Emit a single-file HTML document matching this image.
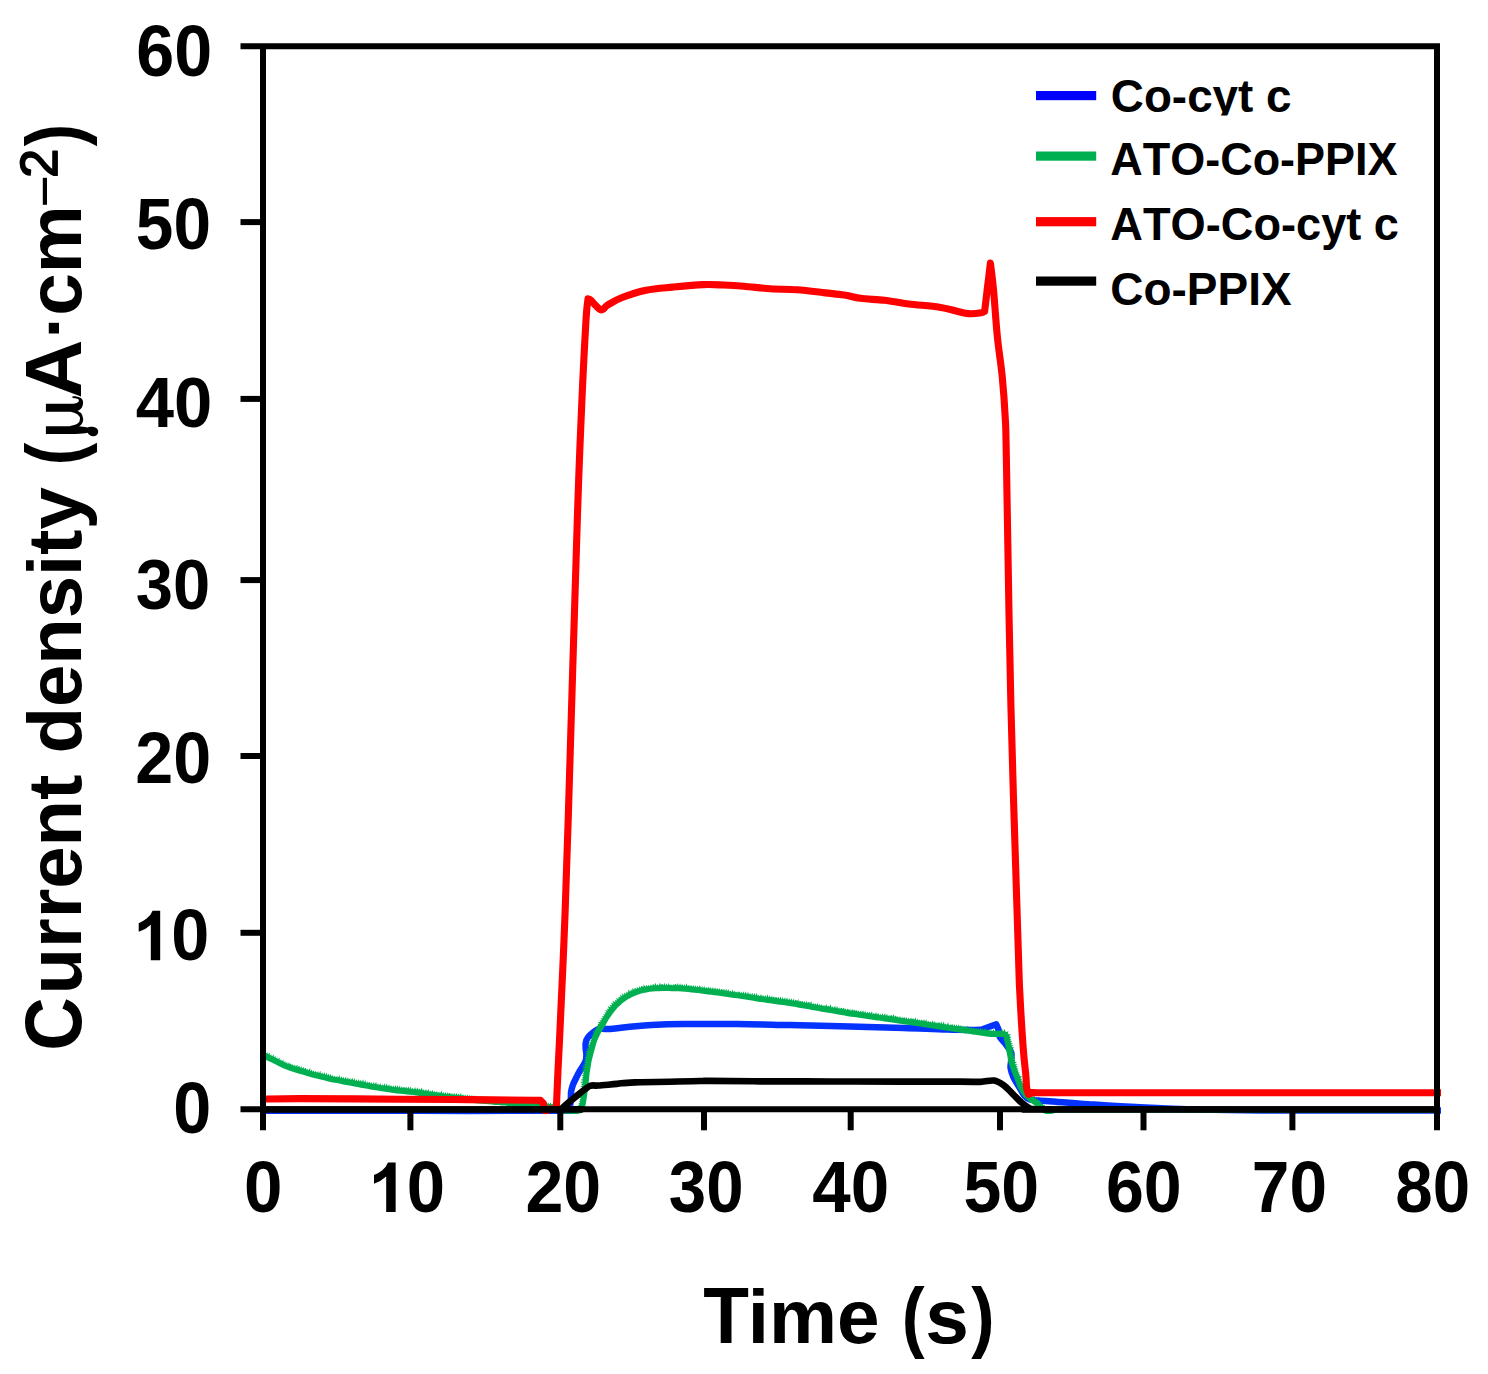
<!DOCTYPE html>
<html><head><meta charset="utf-8"><title>chart</title>
<style>html,body{margin:0;padding:0;background:#fff}body{width:1488px;height:1374px;overflow:hidden;font-family:"Liberation Sans",sans-serif}svg{display:block}</style>
</head><body>
<svg width="1488" height="1374" viewBox="0 0 1488 1374">
<defs><clipPath id="c1"><rect x="1100" y="60" width="300" height="55.6"/></clipPath></defs>
<rect width="1488" height="1374" fill="#fff"/>
<g fill="none" stroke-linejoin="round" stroke-linecap="butt">
<path d="M263.0,1110.8 C289.2,1110.8 369.7,1110.8 420.0,1110.8 C470.3,1110.8 540.2,1111.2 565.0,1110.8 C589.8,1110.4 567.6,1109.6 568.5,1108.5 C569.4,1107.4 569.9,1105.8 570.3,1104.0 C570.7,1102.2 570.8,1100.0 570.9,1098.0 C571.0,1096.0 570.8,1094.0 571.1,1091.9 C571.4,1089.9 571.9,1087.8 572.6,1085.7 C573.3,1083.6 574.4,1081.6 575.4,1079.5 C576.4,1077.4 577.4,1075.4 578.5,1073.3 C579.6,1071.2 581.0,1069.1 582.2,1067.1 C583.4,1065.0 584.9,1063.1 585.6,1061.0 C586.3,1058.9 586.4,1056.8 586.4,1054.8 C586.4,1052.7 585.8,1050.7 585.7,1048.6 C585.6,1046.5 585.4,1044.2 585.8,1042.4 C586.1,1040.6 586.5,1039.3 587.8,1037.6 C589.1,1035.9 591.6,1033.8 593.4,1032.3 C595.2,1030.8 596.8,1029.5 598.7,1028.9 C600.6,1028.3 602.7,1028.9 605.0,1028.9 C607.3,1028.9 608.4,1029.1 612.6,1028.7 C616.8,1028.3 623.5,1027.4 630.0,1026.8 C636.5,1026.2 642.5,1025.4 651.5,1024.9 C660.5,1024.5 669.5,1024.2 683.8,1024.1 C698.1,1023.9 719.8,1023.8 737.5,1024.0 C755.2,1024.2 771.2,1024.7 790.0,1025.1 C808.8,1025.5 831.0,1026.0 850.0,1026.5 C869.0,1027.0 887.7,1027.5 903.8,1028.0 C919.9,1028.5 934.9,1029.3 946.8,1029.6 C958.7,1029.9 969.3,1029.9 975.0,1029.9 C980.7,1029.9 980.2,1029.7 981.2,1029.7 L981.2,1029.7 L996.2,1024.3 L996.2,1024.3 C996.6,1025.2 998.0,1028.0 998.6,1030.0 C999.2,1032.0 998.5,1034.2 999.6,1036.5 C1000.7,1038.8 1003.5,1041.0 1005.4,1043.7 C1007.3,1046.4 1010.1,1049.5 1011.1,1052.4 C1012.1,1055.3 1011.2,1058.5 1011.1,1061.1 C1011.0,1063.7 1010.2,1065.5 1010.6,1068.1 C1011.0,1070.7 1011.8,1073.6 1013.3,1076.8 C1014.8,1080.0 1017.5,1084.1 1019.4,1087.3 C1021.3,1090.5 1022.9,1094.0 1024.6,1096.0 C1026.3,1098.0 1027.5,1098.8 1029.8,1099.5 C1032.1,1100.2 1034.2,1100.0 1038.6,1100.4 C1043.0,1100.8 1047.8,1101.1 1056.0,1101.7 C1064.2,1102.3 1074.0,1103.3 1088.0,1104.2 C1102.0,1105.1 1121.3,1106.4 1140.0,1107.3 C1158.7,1108.2 1180.0,1109.1 1200.0,1109.6 C1220.0,1110.1 1235.0,1110.3 1260.0,1110.5 C1285.0,1110.7 1319.8,1110.6 1350.0,1110.6 C1380.2,1110.6 1425.8,1110.6 1441.0,1110.6" stroke="#0433ff" stroke-width="6.5"/>
<path d="M263.7,1055.2 L266.6,1056.8 L269.6,1058.3 L272.5,1059.7 L275.5,1061.2 L278.5,1062.6 L281.4,1064.1 L284.4,1065.5 L287.5,1066.8 L290.6,1067.9 L293.8,1068.9 L296.9,1069.9 L300.1,1070.9 L303.2,1071.8 L306.4,1072.8 L309.6,1073.7 L312.8,1074.6 L316.0,1075.4 L319.2,1076.2 L322.4,1077.0 L325.6,1077.8 L328.8,1078.6 L332.0,1079.3 L335.3,1079.9 L338.5,1080.5 L341.8,1081.1 L345.0,1081.8 L348.2,1082.4 L351.5,1083.0 L354.7,1083.6 L358.0,1084.2 L361.2,1084.8 L364.5,1085.4 L367.7,1086.0 L370.9,1086.6 L374.2,1087.2 L377.5,1087.7 L380.7,1088.2 L384.0,1088.6 L387.3,1089.1 L390.5,1089.6 L393.8,1090.1 L397.1,1090.5 L400.4,1090.8 L403.7,1091.2 L406.9,1091.5 L410.2,1091.9 L413.5,1092.2 L416.8,1092.6 L420.0,1093.1 L423.3,1093.5 L426.6,1094.0 L429.8,1094.5 L433.1,1094.9 L436.4,1095.4 L439.6,1095.9 L442.9,1096.3 L446.2,1096.8 L449.5,1097.2 L452.7,1097.6 L456.0,1098.0 L459.3,1098.4 L462.6,1098.7 L465.8,1099.1 L469.1,1099.5 L472.4,1099.9 L475.7,1100.3 L479.0,1100.6 L482.3,1100.9 L485.6,1101.2 L488.8,1101.4 L492.1,1101.7 L495.4,1102.0 L498.7,1102.2 L502.0,1102.5 L505.3,1102.7 L508.6,1103.0 L511.9,1103.2 L515.2,1103.5 L518.5,1103.7 L521.7,1104.0 L525.0,1104.2 L528.3,1104.5 L531.6,1104.7 L534.9,1105.0 L538.2,1105.2 L541.4,1105.6 L544.7,1106.1 L547.9,1106.7 L551.2,1107.2 L554.4,1107.8 L557.5,1108.7 L560.6,1109.9 L563.8,1110.7 L567.2,1110.9 L570.5,1110.9 L573.8,1111.0 L577.1,1111.0 L580.2,1110.3 L581.9,1107.6 L582.7,1104.4 L583.3,1101.1 L583.8,1097.8 L584.3,1094.6 L584.7,1091.3 L585.2,1088.0 L585.6,1084.7 L585.9,1081.4 L586.2,1078.2 L586.5,1074.9 L586.9,1071.6 L587.5,1068.4 L588.0,1065.1 L588.5,1061.9 L589.2,1058.7 L590.0,1055.5 L590.8,1052.3 L591.7,1049.1 L592.6,1046.0 L593.5,1042.8 L594.5,1039.7 L595.8,1036.7 L597.2,1033.7 L598.7,1030.9 L600.5,1028.2 L602.2,1025.3 L603.7,1022.4 L605.3,1019.5 L607.0,1016.7 L608.9,1014.1 L610.8,1011.4 L612.8,1008.8 L614.9,1006.3 L617.2,1004.0 L619.6,1001.8 L622.1,999.8 L624.8,997.9 L627.6,996.1 L630.4,994.6 L633.4,993.3 L636.5,992.1 L639.5,991.0 L642.7,990.2 L645.9,989.6 L649.1,988.9 L652.3,988.6 L655.6,988.4 L658.9,988.3 L662.2,988.2 L665.5,988.2 L668.8,988.2 L672.1,988.3 L675.4,988.3 L678.6,988.4 L681.9,988.7 L685.2,988.9 L688.5,989.2 L691.8,989.5 L695.0,989.8 L698.3,990.2 L701.6,990.6 L704.9,991.1 L708.1,991.5 L711.4,991.9 L714.7,992.3 L717.9,992.7 L721.2,993.2 L724.5,993.6 L727.8,994.1 L731.0,994.6 L734.3,995.0 L737.6,995.5 L740.8,996.0 L744.1,996.5 L747.3,997.0 L750.6,997.5 L753.8,998.0 L757.1,998.6 L760.4,999.0 L763.6,999.5 L766.9,1000.0 L770.2,1000.4 L773.5,1000.9 L776.7,1001.3 L780.0,1001.8 L783.3,1002.2 L786.5,1002.7 L789.8,1003.1 L793.0,1003.7 L796.3,1004.2 L799.5,1004.8 L802.8,1005.4 L806.0,1005.9 L809.3,1006.5 L812.5,1007.1 L815.8,1007.6 L819.0,1008.2 L822.3,1008.8 L825.5,1009.3 L828.8,1009.9 L832.0,1010.4 L835.3,1011.0 L838.6,1011.6 L841.8,1012.1 L845.1,1012.7 L848.3,1013.3 L851.6,1013.8 L854.8,1014.2 L858.1,1014.7 L861.4,1015.2 L864.6,1015.7 L867.9,1016.1 L871.2,1016.6 L874.4,1017.1 L877.7,1017.5 L881.0,1018.0 L884.2,1018.5 L887.5,1018.9 L890.8,1019.4 L894.0,1019.9 L897.3,1020.3 L900.6,1020.8 L903.8,1021.3 L907.1,1021.8 L910.4,1022.2 L913.6,1022.7 L916.9,1023.2 L920.2,1023.7 L923.4,1024.2 L926.7,1024.7 L929.9,1025.2 L933.2,1025.7 L936.5,1026.2 L939.7,1026.7 L943.0,1027.2 L946.3,1027.7 L949.5,1028.2 L952.8,1028.6 L956.1,1029.1 L959.3,1029.6 L962.6,1030.1 L965.9,1030.5 L969.1,1031.0 L972.4,1031.5 L975.7,1031.9 L978.9,1032.4 L982.2,1032.9 L985.5,1033.3 L988.8,1033.8 L992.1,1034.0 L995.4,1034.0 L998.7,1034.1 L1002.0,1034.1 L1004.8,1034.3 L1006.2,1035.9 L1006.9,1039.0 L1007.6,1042.2 L1008.3,1045.4 L1008.9,1048.7 L1009.5,1051.9 L1010.1,1055.1 L1010.6,1058.4 L1011.2,1061.7 L1012.3,1064.9 L1013.4,1068.0 L1014.5,1071.1 L1015.7,1074.1 L1016.9,1077.2 L1018.1,1080.3 L1019.2,1083.4 L1020.3,1086.5 L1021.9,1089.5 L1023.7,1092.3 L1025.7,1095.0 L1028.2,1097.2 L1030.8,1099.2 L1033.5,1101.1 L1036.2,1103.0 L1038.5,1105.2 L1040.9,1107.6 L1043.4,1109.8 L1046.4,1111.1 L1049.8,1111.2 L1052.9,1110.6 L1056,1109.8 L1438,1109.8" stroke="#00b050" stroke-width="5.8"/>
<path d="M265.3,1052.4 L265.0,1055.1 L267.1,1053.6 L267.0,1056.1 L269.2,1054.0 L268.9,1057.1 L270.9,1055.6 L270.9,1058.1 L273.1,1056.1 L272.9,1059.0 L275.0,1057.2 L274.8,1060.0 L276.8,1058.5 L276.8,1061.0 L279.0,1059.0 L278.8,1061.9 L280.7,1060.5 L280.8,1062.9 L282.9,1061.0 L282.8,1063.9 L284.7,1062.4 L284.7,1064.8 L286.6,1063.3 L286.7,1065.7 L288.7,1063.7 L288.8,1066.5 L290.8,1063.9 L290.8,1067.2 L292.6,1065.4 L292.9,1067.8 L294.7,1065.9 L295.0,1068.5 L296.9,1066.1 L297.1,1069.2 L299.2,1066.4 L299.2,1069.8 L301.1,1067.5 L301.3,1070.5 L303.2,1068.3 L303.4,1071.1 L305.5,1068.3 L305.5,1071.8 L307.2,1070.0 L307.6,1072.4 L309.6,1069.7 L309.8,1073.0 L311.4,1070.9 L311.9,1073.6 L313.5,1071.6 L314.0,1074.1 L315.6,1072.2 L316.2,1074.6 L317.8,1072.5 L318.3,1075.2 L320.1,1072.5 L320.4,1075.7 L322.1,1073.7 L322.6,1076.2 L324.3,1073.8 L324.7,1076.8 L326.5,1074.3 L326.8,1077.3 L328.5,1075.1 L329.0,1077.8 L330.6,1075.4 L331.1,1078.3 L332.6,1076.4 L333.2,1078.8 L334.7,1076.8 L335.4,1079.2 L336.9,1077.1 L337.6,1079.6 L339.2,1076.9 L339.7,1080.0 L341.3,1077.6 L341.9,1080.4 L343.4,1078.2 L344.1,1080.8 L345.7,1078.3 L346.2,1081.2 L347.8,1078.8 L348.4,1081.6 L349.9,1079.4 L350.5,1082.1 L352.2,1079.3 L352.7,1082.5 L354.3,1079.8 L354.9,1082.9 L356.4,1080.7 L357.0,1083.3 L358.6,1080.7 L359.2,1083.7 L360.8,1081.2 L361.3,1084.1 L363.0,1081.2 L363.5,1084.5 L365.1,1081.8 L365.7,1084.9 L367.2,1082.7 L367.8,1085.3 L369.5,1082.3 L370.0,1085.7 L371.5,1083.7 L372.2,1086.1 L373.7,1083.7 L374.3,1086.4 L375.9,1083.6 L376.5,1086.8 L377.9,1084.7 L378.7,1087.1 L380.2,1084.6 L380.9,1087.4 L382.3,1085.5 L383.0,1087.7 L384.5,1085.0 L385.2,1088.1 L386.7,1085.2 L387.4,1088.4 L388.9,1085.8 L389.6,1088.7 L391.1,1085.8 L391.7,1089.0 L393.2,1086.7 L393.9,1089.3 L395.4,1086.6 L396.1,1089.6 L397.5,1086.9 L398.3,1089.9 L399.7,1087.2 L400.5,1090.1 L401.8,1087.6 L402.6,1090.3 L404.1,1087.3 L404.8,1090.5 L406.3,1087.4 L407.0,1090.8 L408.4,1088.2 L409.2,1091.0 L410.6,1088.2 L411.4,1091.2 L412.7,1089.2 L413.6,1091.5 L415.0,1088.7 L415.8,1091.7 L417.3,1089.0 L418.0,1092.0 L419.5,1088.9 L420.1,1092.3 L421.7,1089.4 L422.3,1092.6 L423.7,1090.4 L424.5,1092.9 L425.9,1090.6 L426.7,1093.3 L428.2,1090.5 L428.8,1093.6 L430.2,1091.6 L431.0,1093.9 L432.5,1091.4 L433.2,1094.2 L434.6,1092.1 L435.4,1094.5 L436.8,1092.4 L437.6,1094.8 L439.0,1092.8 L439.7,1095.1 L441.3,1092.3 L441.9,1095.4 L443.3,1093.4 L444.1,1095.7 L445.5,1093.5 L446.3,1096.0 L447.7,1093.6 L448.5,1096.3 L449.9,1093.3 L450.6,1096.6 L452.0,1094.5 L452.8,1096.9 L454.2,1094.4 L455.0,1097.1 L456.4,1094.5 L457.2,1097.4 L458.6,1094.3 L459.4,1097.6 L460.8,1094.7 L461.6,1097.9 L463.0,1094.9 L463.7,1098.1 L465.1,1095.8 L465.9,1098.4 L467.3,1095.9 L468.1,1098.6 L469.5,1096.2 L470.3,1098.9 L471.8,1095.9 L472.5,1099.1 L474.0,1096.0 L474.7,1099.4 L476.0,1097.2 L476.9,1099.6 L478.2,1097.5 L479.0,1099.9 L480.4,1097.6 L481.2,1100.1 L482.5,1097.8 L483.4,1100.3 L484.7,1097.7 L485.6,1100.4 L486.9,1097.7 L487.8,1100.6 L489.1,1098.3 L490.0,1100.8 L491.3,1098.8 L492.2,1101.0 L493.5,1098.4 L494.4,1101.1 L495.7,1098.7 L496.6,1101.3 L497.9,1098.6 L498.8,1101.5 L500.1,1098.3 L501.0,1101.6 L502.3,1098.8 L503.2,1101.8 L504.5,1099.2 L505.4,1102.0 L506.7,1099.2 L507.5,1102.2 L508.9,1099.3 L509.7,1102.3 L511.0,1100.2 L511.9,1102.5 L513.3,1099.4 L514.1,1102.7 L515.4,1099.7 L516.3,1102.8 L517.7,1099.8 L518.5,1103.0 L519.8,1100.0 L520.7,1103.2 L522.0,1100.7 L522.9,1103.3 L524.2,1100.8 L525.1,1103.5 L526.4,1101.3 L527.3,1103.6 L528.6,1100.9 L529.5,1103.8 L530.7,1101.7 L531.7,1104.0 L532.9,1101.9 L533.9,1104.1 L535.1,1101.9 L536.1,1104.3 L537.3,1102.1 L538.3,1104.5 L539.6,1102.1 L540.5,1104.7 L541.9,1102.7 L542.6,1105.0 L544.1,1103.2 L544.8,1105.4 L546.3,1103.3 L547.0,1105.8 L548.4,1103.8 L549.1,1106.1 L550.6,1103.8 L551.3,1106.5 L552.8,1104.6 L553.5,1106.9 L555.2,1104.0 L555.6,1107.4 L557.5,1105.0 L557.7,1108.0 L559.6,1106.3 L559.8,1108.8 L561.6,1106.9 L561.8,1109.5 L563.4,1107.3 L563.9,1110.0 L565.2,1107.5 L566.1,1110.1 L567.2,1107.9 L568.3,1110.2 L569.4,1107.1 L570.5,1110.2 L571.6,1106.9 L572.7,1110.2 L573.8,1107.6 L574.9,1110.2 L576.0,1107.6 L577.0,1110.2 L577.8,1108.0 L579.0,1110.0 L578.5,1107.8 L580.3,1109.1 L578.5,1107.2 L581.2,1107.4 L579.2,1105.7 L581.8,1105.3 L579.0,1103.6 L582.2,1103.2 L580.1,1101.7 L582.6,1101.0 L580.6,1099.6 L582.9,1098.8 L579.8,1097.3 L583.2,1096.6 L580.7,1095.2 L583.5,1094.5 L581.4,1093.0 L583.8,1092.3 L581.3,1090.8 L584.2,1090.1 L582.2,1088.7 L584.5,1087.9 L581.9,1086.5 L584.8,1085.8 L581.6,1084.3 L585.0,1083.6 L582.0,1082.2 L585.2,1081.4 L582.4,1080.0 L585.4,1079.2 L583.1,1077.9 L585.6,1077.0 L583.1,1075.7 L585.8,1074.8 L583.6,1073.4 L586.0,1072.6 L583.2,1071.1 L586.4,1070.4 L583.8,1068.9 L586.7,1068.3 L583.9,1066.7 L587.1,1066.1 L584.8,1064.6 L587.4,1063.9 L585.3,1062.4 L587.8,1061.7 L585.0,1060.0 L588.2,1059.6 L585.3,1057.7 L588.8,1057.4 L586.0,1055.6 L589.3,1055.3 L586.6,1053.5 L589.8,1053.2 L587.1,1051.4 L590.4,1051.0 L587.8,1049.2 L590.9,1048.9 L589.0,1047.2 L591.5,1046.8 L589.2,1045.0 L592.2,1044.7 L590.1,1042.9 L592.8,1042.6 L591.1,1040.9 L593.5,1040.5 L591.8,1038.7 L594.2,1038.4 L592.4,1036.4 L595.1,1036.4 L593.4,1034.4 L596.0,1034.4 L593.9,1032.1 L597.0,1032.4 L594.7,1029.9 L598.1,1030.5 L596.5,1028.1 L599.3,1028.7 L597.2,1026.0 L600.5,1026.9 L598.1,1024.3 L601.5,1025.0 L599.2,1022.5 L602.6,1023.0 L600.8,1020.9 L603.6,1021.1 L602.0,1019.0 L604.6,1019.1 L603.1,1017.0 L605.7,1017.2 L604.4,1015.0 L607.0,1015.4 L605.7,1013.1 L608.2,1013.6 L606.6,1011.1 L609.5,1011.9 L607.6,1009.1 L610.8,1010.1 L609.0,1007.3 L612.2,1008.3 L610.8,1005.7 L613.6,1006.6 L612.2,1003.8 L615.1,1005.0 L613.7,1002.1 L616.7,1003.5 L615.9,1001.1 L618.2,1001.9 L617.2,999.0 L619.9,1000.5 L618.9,997.3 L621.7,999.2 L620.9,996.0 L623.5,997.9 L622.7,994.8 L625.3,996.7 L624.8,993.8 L627.2,995.5 L627.0,992.9 L629.1,994.4 L628.8,991.2 L631.1,993.5 L631.2,990.7 L633.1,992.6 L633.0,989.4 L635.2,991.8 L635.0,988.4 L637.2,991.0 L637.4,988.2 L639.3,990.3 L639.7,987.5 L641.4,989.7 L641.8,986.3 L643.6,989.3 L644.1,986.1 L645.7,988.8 L646.4,986.3 L647.9,988.4 L648.6,986.0 L650.1,988.0 L651.0,985.7 L652.3,987.8 L653.2,984.6 L654.5,987.7 L655.4,984.6 L656.7,987.6 L657.7,985.3 L658.9,987.5 L659.9,984.4 L661.1,987.5 L662.1,984.2 L663.3,987.4 L664.4,984.5 L665.5,987.4 L666.6,984.9 L667.7,987.5 L668.8,984.7 L669.9,987.5 L671.0,985.3 L672.1,987.5 L673.2,985.4 L674.3,987.5 L675.4,984.3 L676.5,987.6 L677.7,984.7 L678.7,987.7 L680.0,985.0 L680.9,987.8 L682.2,984.7 L683.1,988.0 L684.4,985.5 L685.3,988.2 L686.6,985.2 L687.5,988.4 L688.8,985.4 L689.6,988.6 L691.0,986.3 L691.8,988.8 L693.2,986.5 L694.0,989.0 L695.4,986.7 L696.2,989.2 L697.6,987.0 L698.4,989.5 L699.8,986.8 L700.6,989.8 L702.0,987.5 L702.8,990.0 L704.2,987.6 L705.0,990.3 L706.3,988.2 L707.1,990.6 L708.6,987.6 L709.3,990.9 L710.7,988.5 L711.5,991.1 L712.9,988.6 L713.7,991.4 L715.1,988.8 L715.9,991.7 L717.4,988.7 L718.1,992.0 L719.5,989.6 L720.2,992.3 L721.8,989.3 L722.4,992.6 L723.9,990.1 L724.6,992.9 L726.1,990.3 L726.8,993.2 L728.2,990.7 L728.9,993.5 L730.3,991.6 L731.1,993.8 L732.6,991.4 L733.3,994.1 L734.7,992.0 L735.5,994.4 L736.9,992.5 L737.7,994.7 L739.2,991.9 L739.8,995.1 L741.3,993.0 L742.0,995.4 L743.5,992.9 L744.2,995.8 L745.7,993.0 L746.4,996.1 L747.9,993.5 L748.5,996.4 L750.0,994.2 L750.7,996.8 L752.2,994.3 L752.9,997.1 L754.4,994.6 L755.0,997.5 L756.6,994.6 L757.2,997.8 L758.6,995.8 L759.4,998.1 L760.9,995.6 L761.6,998.5 L763.0,996.2 L763.8,998.8 L765.2,996.5 L765.9,999.1 L767.4,996.2 L768.1,999.4 L769.6,996.8 L770.3,999.7 L771.8,997.1 L772.5,1000.0 L774.0,997.1 L774.6,1000.3 L776.2,997.3 L776.8,1000.6 L778.3,998.1 L779.0,1000.9 L780.5,998.2 L781.2,1001.2 L782.6,998.6 L783.4,1001.5 L784.8,998.9 L785.5,1001.8 L787.0,999.0 L787.7,1002.1 L789.2,999.6 L789.9,1002.4 L791.4,999.9 L792.1,1002.8 L793.6,1000.3 L794.2,1003.1 L795.9,1000.1 L796.4,1003.5 L798.0,1000.8 L798.6,1003.9 L800.2,1001.0 L800.7,1004.3 L802.4,1001.3 L802.9,1004.6 L804.4,1002.4 L805.1,1005.0 L806.6,1002.5 L807.2,1005.4 L808.9,1002.4 L809.4,1005.8 L811.0,1002.9 L811.6,1006.1 L813.1,1004.1 L813.8,1006.5 L815.2,1004.5 L815.9,1006.9 L817.5,1004.5 L818.1,1007.3 L819.5,1005.3 L820.3,1007.6 L821.7,1005.5 L822.4,1008.0 L823.9,1006.0 L824.6,1008.4 L826.2,1005.7 L826.8,1008.8 L828.4,1006.0 L828.9,1009.1 L830.6,1006.2 L831.1,1009.5 L832.6,1007.5 L833.3,1009.9 L834.9,1007.2 L835.4,1010.3 L837.0,1007.6 L837.6,1010.6 L839.1,1008.6 L839.8,1011.0 L841.4,1008.1 L841.9,1011.4 L843.6,1008.4 L844.1,1011.8 L845.6,1009.6 L846.3,1012.1 L847.9,1009.1 L848.4,1012.5 L849.9,1010.2 L850.6,1012.9 L852.1,1010.4 L852.8,1013.2 L854.3,1010.1 L855.0,1013.5 L856.5,1010.6 L857.1,1013.8 L858.5,1011.7 L859.3,1014.1 L860.8,1011.7 L861.5,1014.4 L863.0,1011.9 L863.7,1014.8 L865.1,1012.4 L865.8,1015.1 L867.3,1012.9 L868.0,1015.4 L869.5,1013.1 L870.2,1015.7 L871.7,1012.9 L872.4,1016.0 L873.8,1014.1 L874.6,1016.3 L876.0,1013.7 L876.7,1016.6 L878.2,1014.2 L878.9,1016.9 L880.3,1015.0 L881.1,1017.2 L882.5,1014.9 L883.3,1017.6 L884.8,1014.9 L885.4,1017.9 L886.9,1015.3 L887.6,1018.2 L889.0,1016.2 L889.8,1018.5 L891.4,1015.4 L892.0,1018.8 L893.5,1015.9 L894.2,1019.1 L895.7,1016.0 L896.3,1019.4 L897.7,1017.4 L898.5,1019.7 L899.9,1017.5 L900.7,1020.1 L902.1,1018.1 L902.9,1020.4 L904.4,1017.5 L905.0,1020.7 L906.5,1018.5 L907.2,1021.0 L908.6,1018.9 L909.4,1021.3 L910.9,1018.9 L911.6,1021.7 L913.1,1018.7 L913.7,1022.0 L915.3,1019.1 L915.9,1022.3 L917.4,1020.1 L918.1,1022.7 L919.5,1020.6 L920.3,1023.0 L921.8,1020.0 L922.4,1023.3 L924.0,1020.7 L924.6,1023.6 L926.1,1020.9 L926.8,1024.0 L928.2,1021.9 L929.0,1024.3 L930.4,1022.3 L931.1,1024.6 L932.7,1021.9 L933.3,1025.0 L934.8,1022.5 L935.5,1025.3 L936.9,1023.3 L937.7,1025.6 L939.2,1022.6 L939.9,1025.9 L941.4,1023.3 L942.0,1026.3 L943.6,1023.4 L944.2,1026.6 L945.6,1024.6 L946.4,1026.9 L947.9,1024.0 L948.6,1027.2 L950.0,1025.3 L950.7,1027.6 L952.3,1024.6 L952.9,1027.9 L954.4,1025.5 L955.1,1028.2 L956.5,1025.9 L957.3,1028.6 L958.7,1026.0 L959.4,1028.9 L961.0,1025.8 L961.6,1029.2 L963.0,1026.9 L963.8,1029.5 L965.2,1027.4 L966.0,1029.8 L967.4,1027.3 L968.1,1030.1 L969.6,1027.9 L970.3,1030.4 L971.7,1028.4 L972.5,1030.7 L973.9,1028.6 L974.7,1031.0 L976.1,1029.1 L976.9,1031.4 L978.3,1029.2 L979.0,1031.7 L980.5,1029.4 L981.2,1032.0 L982.6,1029.7 L983.4,1032.3 L984.9,1029.5 L985.6,1032.6 L987.0,1030.3 L987.7,1032.9 L989.1,1030.3 L989.9,1033.1 L991.1,1030.9 L992.1,1033.2 L993.3,1030.7 L994.3,1033.3 L995.4,1031.2 L996.5,1033.3 L997.6,1030.9 L998.7,1033.3 L999.8,1031.2 L1000.9,1033.4 L1002.0,1030.4 L1003.1,1033.4 L1004.5,1030.7 L1005.1,1033.6 L1007.4,1032.3 L1006.5,1034.8 L1009.4,1034.8 L1007.2,1036.7 L1010.6,1037.0 L1007.7,1038.8 L1010.1,1039.4 L1008.1,1041.0 L1011.4,1041.4 L1008.6,1043.1 L1011.4,1043.7 L1009.0,1045.3 L1011.9,1045.8 L1009.4,1047.4 L1012.7,1047.9 L1009.9,1049.6 L1012.6,1050.2 L1010.3,1051.8 L1013.1,1052.4 L1010.6,1053.9 L1013.7,1054.6 L1011.0,1056.1 L1014.4,1056.7 L1011.3,1058.3 L1013.9,1058.9 L1011.7,1060.4 L1015.0,1060.7 L1012.3,1062.5 L1015.4,1062.6 L1013.0,1064.6 L1016.0,1064.7 L1013.7,1066.7 L1016.5,1066.8 L1014.5,1068.7 L1017.2,1068.9 L1015.2,1070.8 L1017.6,1071.0 L1016.0,1072.8 L1018.5,1073.0 L1016.8,1074.9 L1019.3,1075.1 L1017.6,1076.9 L1020.8,1076.9 L1018.4,1079.0 L1021.1,1079.2 L1019.2,1081.1 L1021.7,1081.4 L1019.9,1083.2 L1022.3,1083.4 L1020.6,1085.2 L1023.9,1085.0 L1021.5,1087.2 L1024.7,1086.6 L1022.5,1089.1 L1025.6,1088.4 L1023.7,1090.9 L1026.4,1090.5 L1025.0,1092.8 L1027.5,1092.2 L1026.3,1094.5 L1028.7,1093.5 L1027.8,1096.0 L1030.3,1094.6 L1029.5,1097.3 L1031.7,1096.1 L1031.3,1098.6 L1033.7,1097.1 L1033.0,1099.9 L1035.3,1098.5 L1034.9,1101.1 L1037.7,1099.2 L1036.6,1102.4 L1039.6,1100.7 L1038.3,1103.9 L1041.0,1102.7 L1039.8,1105.5 L1042.3,1104.6 L1041.4,1107.0 L1044.4,1105.4 L1043.0,1108.5 L1045.2,1107.1 L1044.7,1109.7 L1046.4,1107.7 L1046.5,1110.3 L1047.7,1108.3 L1048.6,1110.5 L1049.5,1107.9 L1050.8,1110.3 L1051.3,1107.5 L1052.7,1109.9 L1052.9,1107.1" stroke="#00b050" stroke-width="1.25" stroke-linejoin="miter" stroke-miterlimit="3"/>
<path d="M263.0,1098.8 C269.2,1098.7 277.2,1098.4 300.0,1098.4 C322.8,1098.4 371.7,1098.8 400.0,1099.0 C428.3,1099.2 447.6,1099.2 470.0,1099.4 C492.4,1099.6 523.2,1099.9 534.6,1100.0 C546.0,1100.1 537.4,1100.0 538.5,1100.2 C539.6,1100.4 540.7,1100.7 541.5,1101.2 C542.3,1101.7 542.9,1102.4 543.3,1103.2 C543.7,1104.0 543.8,1104.8 543.9,1106.0 C544.0,1107.2 544.1,1109.4 544.1,1110.1 L544.1,1110.1 C544.3,1110.1 544.9,1110.4 545.5,1110.4 C546.1,1110.4 546.8,1110.2 547.5,1109.9 C548.2,1109.6 549.1,1108.9 550.0,1108.7 C550.9,1108.5 552.0,1108.5 553.0,1108.5 C554.0,1108.5 555.8,1108.5 556.3,1108.5 L556.3,1108.5 C556.3,1107.8 556.2,1110.9 556.5,1104.5 C556.8,1098.1 557.5,1080.8 558.0,1070.0 C558.5,1059.2 558.5,1061.7 559.5,1040.0 C560.5,1018.3 562.5,977.3 564.0,940.0 C565.5,902.7 566.1,886.0 568.3,816.0 C570.5,746.0 575.0,588.8 577.3,520.0 C579.5,451.2 580.4,436.1 581.8,403.0 C583.2,369.9 584.9,338.9 585.9,321.5 C586.9,304.1 587.6,302.4 588.0,298.6 L588.0,298.6 C588.4,298.8 589.2,298.5 590.5,299.6 C591.8,300.8 594.5,304.0 596.0,305.5 C597.5,307.0 598.4,308.1 599.3,308.8 C600.2,309.5 600.6,309.6 601.3,309.6 C602.0,309.6 602.5,309.4 603.6,308.6 C604.7,307.8 605.0,306.5 608.0,304.6 C611.0,302.8 615.2,299.9 621.5,297.5 C627.8,295.1 637.5,291.8 646.0,290.0 C654.5,288.2 663.0,287.8 672.5,286.9 C682.0,286.0 694.5,284.8 703.0,284.4 C711.5,284.0 716.6,284.5 723.4,284.8 C730.2,285.1 736.0,285.4 743.8,286.0 C751.6,286.6 761.5,287.9 770.3,288.5 C779.1,289.1 787.6,288.8 796.8,289.5 C806.0,290.2 817.4,291.7 825.3,292.6 C833.2,293.5 838.4,293.9 844.2,294.8 C850.0,295.7 853.6,297.2 860.3,298.1 C867.0,299.0 876.4,299.1 884.5,300.0 C892.6,300.9 899.6,302.6 908.7,303.7 C917.9,304.8 931.3,305.7 939.4,306.9 C947.5,308.1 952.3,309.9 957.1,311.0 C961.9,312.1 964.4,313.1 968.4,313.4 C972.4,313.7 978.6,313.0 981.3,312.6 C984.0,312.2 984.0,311.5 984.6,311.3 L984.6,311.3 C985.1,307.2 986.5,295.1 987.5,287.0 C988.5,278.9 989.9,266.8 990.4,262.8 L990.4,262.8 C990.9,267.1 992.2,276.1 993.4,288.4 C994.6,300.7 995.9,322.0 997.4,336.8 C998.9,351.6 1001.0,363.7 1002.3,377.1 C1003.6,390.5 1004.5,403.2 1005.2,417.0 C1005.9,430.8 1005.5,412.0 1006.4,460.0 C1007.3,508.0 1008.9,623.3 1010.9,705.0 C1012.9,786.7 1016.8,901.8 1018.3,950.0 C1019.8,998.2 1019.1,977.7 1019.9,994.0 C1020.7,1010.3 1022.2,1034.2 1023.2,1047.7 C1024.2,1061.2 1025.2,1068.1 1025.8,1074.7 C1026.4,1081.3 1026.2,1084.1 1026.6,1087.3 C1027.0,1090.5 1028.1,1092.9 1028.4,1094.0 L1028.4,1094.0 C1029.4,1093.7 1031.4,1092.7 1034.2,1092.4 C1037.0,1092.2 1017.4,1092.5 1045.0,1092.5 C1072.6,1092.5 1134.0,1092.5 1200.0,1092.5 C1266.0,1092.5 1400.8,1092.5 1441.0,1092.5" stroke="#ff0000" stroke-width="7.1" transform="translate(0 0.25)"/>
<path d="M263.0,1109.3 C312.3,1109.3 509.2,1109.4 559.0,1109.3 C608.8,1109.2 560.7,1109.1 561.5,1108.6 C562.3,1108.1 561.3,1108.6 564.0,1106.3 C566.7,1104.0 573.7,1098.2 577.6,1095.0 C581.5,1091.8 585.4,1088.8 587.5,1087.2 C589.6,1085.6 589.5,1085.9 590.5,1085.6 C591.5,1085.3 592.2,1085.2 593.5,1085.2 C594.8,1085.2 594.4,1085.7 598.3,1085.4 C602.2,1085.2 610.8,1084.2 616.9,1083.7 C623.0,1083.2 621.1,1082.7 635.0,1082.2 C648.9,1081.7 687.8,1081.2 700.0,1080.9 C712.2,1080.7 698.0,1080.7 708.0,1080.7 C718.0,1080.8 739.7,1081.1 760.0,1081.2 C780.3,1081.3 806.7,1081.2 830.0,1081.3 C853.3,1081.3 878.3,1081.5 900.0,1081.5 C921.7,1081.5 946.6,1081.5 960.0,1081.5 C973.4,1081.5 974.7,1081.9 980.4,1081.7 C986.1,1081.5 990.1,1079.8 994.0,1080.4 C997.9,1081.0 1000.6,1082.9 1003.7,1085.1 C1006.8,1087.3 1009.5,1090.6 1012.4,1093.4 C1015.3,1096.2 1018.5,1099.8 1021.1,1102.1 C1023.7,1104.4 1025.9,1106.0 1028.1,1107.2 C1030.2,1108.4 1028.7,1108.7 1034.0,1109.0 C1039.3,1109.3 992.7,1109.2 1060.0,1109.3 C1127.3,1109.3 1375.0,1109.3 1438.0,1109.3" stroke="#000" stroke-width="6.6" transform="translate(0 0.15)"/>
</g>
<g stroke="#000" stroke-width="6" fill="none" stroke-linecap="butt">
<path d="M240.5,46.3 H1440.0 M1437.0,46.3 V1130.3 M263.0,46.3 V1130.3 M240.5,1109.3 H1437.0"/>
<path d="M410.4,1109.3 V1130.3"/>
<path d="M560.3,1109.3 V1130.3"/>
<path d="M704,1109.3 V1130.3"/>
<path d="M850.7,1109.3 V1130.3"/>
<path d="M1000,1109.3 V1130.3"/>
<path d="M1143.5,1109.3 V1130.3"/>
<path d="M1292.4,1109.3 V1130.3"/>
<path d="M240.5,222.1 H263.0"/>
<path d="M240.5,398.9 H263.0"/>
<path d="M240.5,580.1 H263.0"/>
<path d="M240.5,756 H263.0"/>
<path d="M240.5,932.8 H263.0"/>
</g>
<g fill="#000" style="font-kerning:none">
<text transform="translate(136.20 75.50) scale(0.6823 0.7189)" font-family='"Liberation Sans", sans-serif' font-weight="bold" font-size="100" >60</text>
<text transform="translate(135.82 248.80) scale(0.6756 0.7203)" font-family='"Liberation Sans", sans-serif' font-weight="bold" font-size="100" >50</text>
<text transform="translate(135.66 427.10) scale(0.6883 0.7133)" font-family='"Liberation Sans", sans-serif' font-weight="bold" font-size="100" >40</text>
<text transform="translate(135.76 609.20) scale(0.6696 0.7118)" font-family='"Liberation Sans", sans-serif' font-weight="bold" font-size="100" >30</text>
<text transform="translate(135.33 783.40) scale(0.6830 0.7161)" font-family='"Liberation Sans", sans-serif' font-weight="bold" font-size="100" >20</text>
<g transform="translate(133.29 960.30) scale(0.6833 0.7217)"><path transform="scale(0.04883 -0.04667)" d="M806 0H525V1059Q371 915 162 846V1101Q272 1137 401 1237.5Q530 1338 578 1472H806Z"/><text x="55.62" font-family='"Liberation Sans", sans-serif' font-weight="bold" font-size="100">0</text></g>
<text transform="translate(173.30 1132.50) scale(0.6834 0.7161)" font-family='"Liberation Sans", sans-serif' font-weight="bold" font-size="100" >0</text>
<text transform="translate(244.06 1212.10) scale(0.6918 0.7203)" font-family='"Liberation Sans", sans-serif' font-weight="bold" font-size="100" >0</text>
<g transform="translate(368.55 1212.10) scale(0.6884 0.7203)"><path transform="scale(0.04883 -0.04667)" d="M806 0H525V1059Q371 915 162 846V1101Q272 1137 401 1237.5Q530 1338 578 1472H806Z"/><text x="55.62" font-family='"Liberation Sans", sans-serif' font-weight="bold" font-size="100">0</text></g>
<text transform="translate(525.44 1212.10) scale(0.6811 0.7203)" font-family='"Liberation Sans", sans-serif' font-weight="bold" font-size="100" >20</text>
<text transform="translate(668.86 1211.99) scale(0.6725 0.7188)" font-family='"Liberation Sans", sans-serif' font-weight="bold" font-size="100" >30</text>
<text transform="translate(812.35 1212.10) scale(0.6921 0.7203)" font-family='"Liberation Sans", sans-serif' font-weight="bold" font-size="100" >40</text>
<text transform="translate(963.51 1212.10) scale(0.6804 0.7203)" font-family='"Liberation Sans", sans-serif' font-weight="bold" font-size="100" >50</text>
<text transform="translate(1105.90 1212.10) scale(0.6814 0.7203)" font-family='"Liberation Sans", sans-serif' font-weight="bold" font-size="100" >60</text>
<text transform="translate(1251.80 1212.10) scale(0.6759 0.7203)" font-family='"Liberation Sans", sans-serif' font-weight="bold" font-size="100" >70</text>
<text transform="translate(1395.36 1212.10) scale(0.6734 0.7203)" font-family='"Liberation Sans", sans-serif' font-weight="bold" font-size="100" >80</text>
<text transform="translate(703.16 1342.70) scale(0.7489 0.7960)" font-family='"Liberation Sans", sans-serif' font-weight="bold" font-size="100">T</text>
<text transform="translate(747.76 1342.70) scale(0.7652 0.7560)" font-family='"Liberation Sans", sans-serif' font-weight="bold" font-size="100">ime</text>
<text transform="translate(901.68 1342.74) scale(0.6874 0.7692)" font-family='"Liberation Sans", sans-serif' font-weight="bold" font-size="100" >(</text>
<text transform="translate(925.14 1342.70) scale(0.7854 0.7560)" font-family='"Liberation Sans", sans-serif' font-weight="bold" font-size="100">s</text>
<text transform="translate(971.33 1342.74) scale(0.7016 0.7692)" font-family='"Liberation Sans", sans-serif' font-weight="bold" font-size="100" >)</text>
<g clip-path="url(#c1)"><text transform="translate(1110.82 111.90) scale(0.4581 0.4695)" font-family='"Liberation Sans", sans-serif' font-weight="bold" font-size="100" >Co-cyt c</text></g>
<rect x="1036" y="91.0" width="60.2" height="9.2" fill="#0000ff"/>
<text transform="translate(1110.28 175.05) scale(0.4497 0.4695)" font-family='"Liberation Sans", sans-serif' font-weight="bold" font-size="100" >ATO-Co-PPIX</text>
<rect x="1036" y="151.5" width="60.2" height="9.2" fill="#00b050"/>
<text transform="translate(1110.37 240.40) scale(0.4519 0.4695)" font-family='"Liberation Sans", sans-serif' font-weight="bold" font-size="100" >ATO-Co-cyt c</text>
<rect x="1036" y="217.1" width="60.2" height="9.2" fill="#ff0000"/>
<text transform="translate(1110.32 304.60) scale(0.4596 0.4695)" font-family='"Liberation Sans", sans-serif' font-weight="bold" font-size="100" >Co-PPIX</text>
<rect x="1036" y="276.5" width="60.2" height="9.2" fill="#000"/>
<g transform="translate(81.1 1100.0) rotate(-90)"><text transform="translate(49.36 0.00) scale(0.7418 0.7930)" font-family='"Liberation Sans", sans-serif' font-weight="bold" font-size="100" >C</text><text transform="translate(105.58 0.00) scale(0.7607 0.7580)" font-family='"Liberation Sans", sans-serif' font-weight="bold" font-size="100" >urrent density</text><text transform="translate(634.63 -0.02) scale(0.6768 0.7767)" font-family='"Liberation Sans", sans-serif' font-weight="bold" font-size="100" >(</text><text transform="translate(953.68 -0.02) scale(0.6714 0.7767)" font-family='"Liberation Sans", sans-serif' font-weight="bold" font-size="100" >)</text><text transform="translate(701.47 0.00) scale(0.8138 0.8000)" font-family='"Liberation Sans", sans-serif' font-weight="bold" font-size="100" >A</text><text transform="translate(761.16 -3.67) scale(0.7609 0.6916)" font-family='"Liberation Sans", sans-serif' font-weight="bold" font-size="100" >·</text><text transform="translate(784.21 0.00) scale(0.7667 0.7580)" font-family='"Liberation Sans", sans-serif' font-weight="bold" font-size="100" >c</text><text transform="translate(826.75 0.00) scale(0.7659 0.7580)" font-family='"Liberation Sans", sans-serif' font-weight="bold" font-size="100" >m</text><text transform="translate(922.19 -23.90) scale(0.5180 0.5099)" font-family='"Liberation Sans", sans-serif' font-weight="normal" font-size="100" stroke="#000" stroke-width="3.6" stroke-linejoin="round">2</text><rect x="895.2" y="-38.3" width="27" height="4.2"/><g transform="translate(664.0 0)"><path d="M2.1,-35.2 H9.7 V-5 C9.7,0 9.0,3.5 8.4,6.3 C9.6,8.5 9.6,13.8 7.2,16 C4.5,18.3 -0.3,17 -0.3,12.3 C-0.3,9 1.8,7.4 3.2,6.6 C2.6,3.5 2.1,0 2.1,-6 Z"/><path d="M24.2,-35.2 H32.2 V-9.5 C32.2,-4.5 33.8,-2.2 35.6,-2.2 C37.2,-2.2 37.9,-4.5 38.0,-8.6 L39.8,-8.6 C40,-2 37.8,2.0 33.5,2.0 C28.5,2.0 24.2,-1 24.2,-9 Z"/><path d="M8.5,-11 C9.5,-2.5 12.5,0.5 17,0.5 C21.5,0.5 24.3,-2.5 25.8,-10" fill="none" stroke="#000" stroke-width="3.2"/></g></g>
</g>
</svg>
</body></html>
